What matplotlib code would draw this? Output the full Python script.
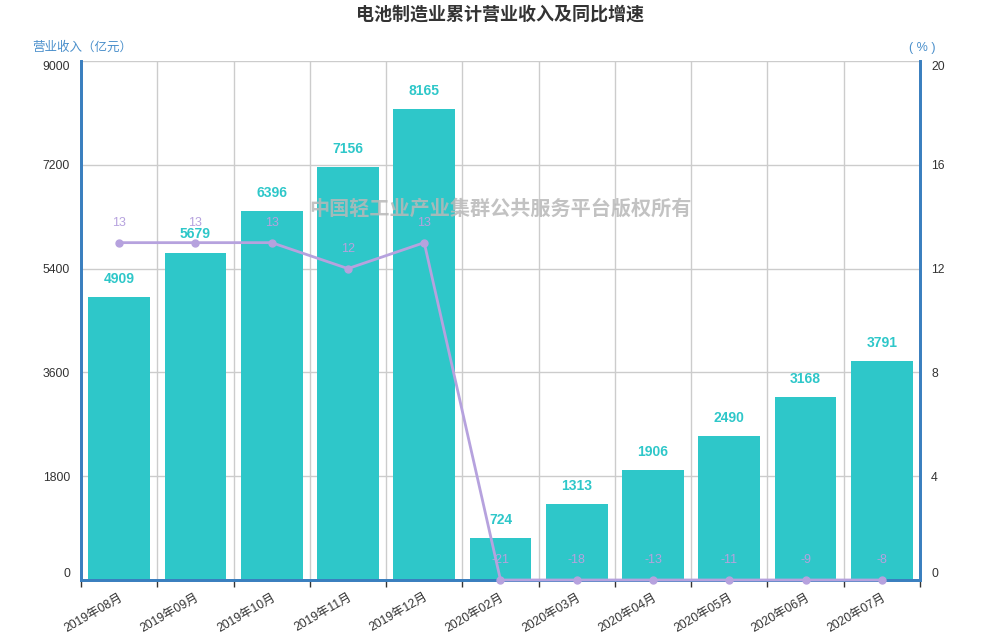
import matplotlib
matplotlib.use("Agg")
import matplotlib.pyplot as plt
import numpy as np

plt.rcParams['font.family'] = ['Liberation Sans', 'Noto Sans CJK SC', 'DejaVu Sans']

categories = ["2019年08月", "2019年09月", "2019年10月", "2019年11月", "2019年12月",
              "2020年02月", "2020年03月", "2020年04月", "2020年05月", "2020年06月", "2020年07月"]
revenue = [4909, 5679, 6396, 7156, 8165, 724, 1313, 1906, 2490, 3168, 3791]
growth = [13, 13, 13, 12, 13, -21, -18, -13, -11, -9, -8]
left_ticks = [0, 1800, 3600, 5400, 7200, 9000]
right_ticks = [0, 4, 8, 12, 16, 20]

BAR = '#2ec7c9'
LINE = '#b6a2de'
AXIS = '#3a7fbf'
GRID = '#cccccc'
TXT = '#333333'

fig = plt.figure(figsize=(10, 6.4), dpi=100)
ax = fig.add_axes([0.081, 0.09375, 0.839, 0.81094])
ax2 = ax.twinx()

x = np.arange(len(categories))
ax.bar(x, revenue, width=0.81, color=BAR, zorder=2)
ax.set_xlim(-0.5, len(categories) - 0.5)
ax.set_ylim(0, 9000)
ax.set_yticks(left_ticks)
ax.set_yticklabels([str(t) for t in left_ticks])
ax.yaxis.grid(True, color=GRID, lw=1, zorder=0)
ax.set_axisbelow(True)

# category boundaries: vertical grid + tick marks
bounds = np.arange(len(categories) + 1) - 0.5
for b in bounds[1:-1]:
    ax.axvline(b, color=GRID, lw=1, zorder=0)
ax.set_xticks(x)
ax.set_xticklabels(categories, rotation=30, ha='right', rotation_mode='anchor',
                   fontsize=8.8, color=TXT)
ax.tick_params(axis='x', which='major', length=0, pad=8)
ax.set_xticks(bounds, minor=True)
ax.tick_params(axis='x', which='minor', length=5, color=TXT, width=1)

for i, v in enumerate(revenue):
    ax.annotate(str(v), (i, v), xytext=(0, 8), textcoords='offset points',
                ha='center', va='bottom', color=BAR, fontsize=10, fontweight='bold', zorder=5)

# right axis line (values below axis minimum sit on the axis)
shown = np.maximum(growth, 0)
ax2.plot(x, shown, color=LINE, lw=2, marker='o', ms=5, zorder=4, clip_on=False)
ax2.set_ylim(0, 20)
ax2.set_yticks(right_ticks)
ax2.set_yticklabels([str(t) for t in right_ticks])
for i, (v, s) in enumerate(zip(growth, shown)):
    ax2.annotate(str(v), (i, s), xytext=(0, 10), textcoords='offset points',
                 ha='center', va='bottom', color=LINE, fontsize=9, zorder=5)

for a in (ax, ax2):
    a.spines['top'].set_visible(False)
    for sp in ('left', 'right', 'bottom'):
        a.spines[sp].set_color(AXIS)
        a.spines[sp].set_linewidth(2)
    a.tick_params(axis='y', length=0, labelsize=8.8, labelcolor=TXT, pad=8)

# edge labels inside
for lbls in (ax.get_yticklabels(), ax2.get_yticklabels()):
    lbls[0].set_va('bottom')
    lbls[-1].set_va('top')

fig.text(0.5, 0.977, "电池制造业累计营业收入及同比增速", ha='center', va='center',
         fontsize=13, fontweight='bold', color=TXT)
fig.text(0.032, 0.925, "营业收入（亿元）", ha='left', va='center', fontsize=9, color='#4a8fcb')
fig.text(0.9225, 0.925, "( % )", ha='center', va='center', fontsize=9, color='#4a8fcb')
fig.text(0.5, 1 - 209 / 640, "中国轻工业产业集群公共服务平台版权所有", ha='center', va='center',
         fontsize=14.5, fontweight='bold', color='#b8b8b8', alpha=0.85, zorder=10)

fig.savefig("out.png", dpi=100)
